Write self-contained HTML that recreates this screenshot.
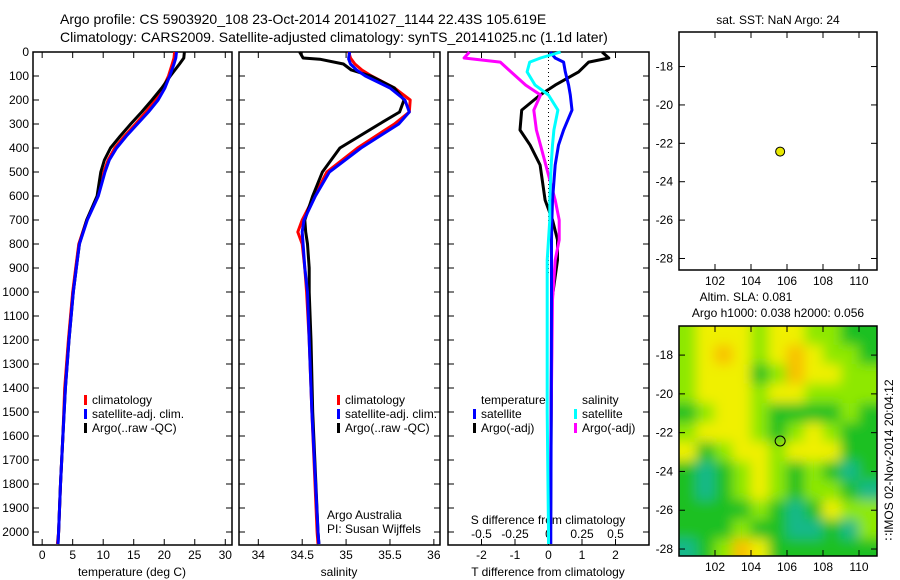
<!DOCTYPE html>
<html><head><meta charset="utf-8"><style>
body{margin:0;background:#fff}
svg{display:block;font-family:"Liberation Sans",sans-serif;font-size:12px}
</style></head><body>
<svg id="c" width="900" height="580" xmlns="http://www.w3.org/2000/svg">
<defs><filter id="bl" filterUnits="userSpaceOnUse" x="650" y="290" width="260" height="300"><feGaussianBlur stdDeviation="6"/></filter>
<clipPath id="mc"><rect x="679" y="326" width="198" height="230"/></clipPath></defs>
<text x="60" y="24" font-size="14">Argo profile: CS 5903920_108 23-Oct-2014 20141027_1144 22.43S 105.619E</text>
<text x="60" y="42" font-size="14">Climatology: CARS2009. Satellite-adjusted climatology: synTS_20141025.nc (1.1d later)</text>
<g id="g"></g>
</svg>
<script>
// ---- data ----
const depthT=[0,25,50,100,150,200,250,300,350,400,450,500,600,700,800,900,1000,1200,1400,1600,1800,2000,2050];
const tempClim=[21.7,21.6,21.3,20.7,19.8,18.6,17.0,15.3,13.5,11.9,10.8,10.1,9.1,7.3,6.0,5.5,5.0,4.3,3.7,3.4,3.0,2.7,2.5];
const tempSat=[22.0,21.9,21.6,20.9,20.1,19.0,17.4,15.6,13.8,12.2,11.0,10.3,9.2,7.4,6.1,5.6,5.1,4.4,3.8,3.4,3.0,2.7,2.6];
const tempArgo=[23.3,23.2,22.5,21.0,19.6,18.0,16.3,14.5,12.8,11.2,10.2,9.6,9.0,7.3,6.1,5.6,5.1,4.4,3.8,3.4,3.0,2.7,2.6];
const depthS=[0,25,30,50,75,100,150,200,250,300,400,500,600,700,750,800,900,1000,1200,1500,2000,2050];
const salClim=[35.03,35.05,35.06,35.10,35.18,35.29,35.55,35.73,35.72,35.55,35.13,34.78,34.64,34.50,34.45,34.50,34.53,34.55,34.58,34.61,34.67,34.68];
const salSat=[35.04,35.03,35.03,35.05,35.12,35.22,35.50,35.67,35.72,35.60,35.17,34.81,34.65,34.52,34.50,34.51,34.53,34.56,34.58,34.61,34.68,34.69];
const salArgo=[34.47,34.51,34.70,34.97,35.06,35.28,35.55,35.66,35.61,35.38,34.93,34.73,34.62,34.53,34.54,34.56,34.58,34.58,34.60,34.62,34.68,34.69];
const depthD=[0,25,42,83,138,179,242,325,388,471,617,700,783,867,1033,1500,2000,2050];
const dTsat=[0.05,0.2,0.45,0.5,0.6,0.65,0.7,0.45,0.3,0.2,0.12,0.1,0.09,0.09,0.09,0.08,0.07,0.07];
const dTargo=[1.6,1.8,1.2,0.9,0.2,-0.25,-0.8,-0.85,-0.55,-0.25,-0.1,0.12,0.27,0.27,0.1,0.08,0.06,0.05];
const dSsat=[0.09,-0.06,-0.14,-0.16,-0.1,0.0,0.07,0.04,0.03,0.02,0.01,0.01,0.0,-0.01,-0.01,-0.01,0.0,0.0];
const dSargo=[-0.59,-0.63,-0.36,-0.28,-0.17,-0.06,-0.11,-0.09,-0.06,-0.02,0.05,0.08,0.08,0.05,0.03,0.02,0.01,0.01];
const latMap=[-16,-18,-20,-22,-24,-26,-28];
const lonTicks=[102,104,106,108,110];
const depthTicks=[0,100,200,300,400,500,600,700,800,900,1000,1100,1200,1300,1400,1500,1600,1700,1800,1900,2000];
const tTicks=[0,5,10,15,20,25,30];
const sTicks=[34,34.5,35,35.5,36];
const dTTicks=[-2,-1,0,1,2];
const dSTicks=[-0.5,-0.25,0,0.25,0.5];
const argoLon=105.619, argoLat=-22.43;
// SLA grid: rows from -16.5 southward (1 deg), cols from lon 100 (1 deg); 0=teal..4=orange
const slaGrid=[
[2,3,3,3,2,3,3,2,2,1,1],
[2,3,4,3,2,3,4,3,2,2,1],
[2,3,3,3,1,2,4,3,3,2,2],
[2,3,3,3,2,3,3,2,2,2,2],
[1,2,3,3,2,1,1,1,1,2,1],
[2,3,3,3,2,1,2,3,2,1,1],
[3,1,2,3,3,2,3,3,3,1,1],
[1,0,1,2,3,2,1,2,1,0,1],
[1,0,1,2,3,2,1,2,2,1,0],
[1,1,1,1,2,1,0,1,3,2,2],
[1,1,1,2,1,1,0,0,1,0,2],
[0,1,2,4,3,1,1,1,1,1,1]];
const slaColors=['#12b88a','#1fc024','#8ee800','#f0f000','#f8c000'];

// ---- helpers ----
const NS='http://www.w3.org/2000/svg';
const G=document.getElementById('g');
function mk(tag,at,parent){const e=document.createElementNS(NS,tag);for(const k in at)e.setAttribute(k,at[k]);(parent||G).appendChild(e);return e;}
function txt(x,y,s,anchor,parent){const e=mk('text',{x:x,y:y,'text-anchor':anchor||'start'},parent);e.textContent=s;return e;}
const Y=d=>52+d*0.24;
const PB=545;
const panels=[{l:33,r:232,min:-1.5,max:31.1},{l:239,r:440,min:33.78,max:36.07},{l:448,r:649,min:-3,max:3}];
const X=(p,v)=>p.l+(v-p.min)/(p.max-p.min)*(p.r-p.l);
const XS=v=>X(panels[2],v*4);

panels.forEach((p,i)=>{
  const f=mk('rect',{x:p.l,y:52,width:p.r-p.l,height:PB-52,fill:'none',stroke:'#000','stroke-width':1.5});
  
  
  depthTicks.forEach(d=>{
    mk('line',{x1:p.l,x2:p.l+6,y1:Y(d),y2:Y(d),stroke:'#000'});
    mk('line',{x1:p.r,x2:p.r-6,y1:Y(d),y2:Y(d),stroke:'#000'});
  });
});
depthTicks.forEach(d=>{
  const t=txt(29,Y(d)+4,String(d),'end');
  
  
});
function xticks(p,ticks,fn,y,lab){
  ticks.forEach(v=>{const x=fn(v);
    mk('line',{x1:x,x2:x,y1:52,y2:58,stroke:'#000'});mk('line',{x1:x,x2:x,y1:PB,y2:PB-6,stroke:'#000'});
    const t=txt(x,y,lab(v),'middle');
    
    
  });
}
xticks(panels[0],tTicks,v=>X(panels[0],v),559,v=>String(v));
xticks(panels[1],sTicks,v=>X(panels[1],v),559,v=>String(v));
xticks(panels[2],dTTicks,v=>X(panels[2],v),559,v=>String(v));
dSTicks.forEach(v=>{const t=txt(XS(v),538,String(v),'middle');
  
  });
[['temperature (deg C)',132],['salinity',339],['T difference from climatology',548]].forEach(a=>{
  const t=txt(a[1],576,a[0],'middle');
  
  });
{const t=txt(548,524,'S difference from climatology','middle');
 
 }
mk('line',{x1:X(panels[2],0),x2:X(panels[2],0),y1:52,y2:275,stroke:'#000','stroke-dasharray':'1 3'});

function line(ds,vs,fx,col,name,w){
  const pts=ds.map((d,i)=>fx(vs[i]).toFixed(1)+','+Y(d).toFixed(1)).join(' ');
  const e=mk('polyline',{points:pts,fill:'none',stroke:col,'stroke-width':w||3,'stroke-linejoin':'round'});
  
  
}
line(depthT,tempClim,v=>X(panels[0],v),'#f00','temp-climatology-line');
line(depthT,tempArgo,v=>X(panels[0],v),'#000','temp-argo-line');
line(depthT,tempSat,v=>X(panels[0],v),'#00f','temp-satellite-line');
line(depthS,salClim,v=>X(panels[1],v),'#f00','sal-climatology-line');
line(depthS,salArgo,v=>X(panels[1],v),'#000','sal-argo-line');
line(depthS,salSat,v=>X(panels[1],v),'#00f','sal-satellite-line');
line(depthD,dTargo,v=>X(panels[2],v),'#000','tdiff-argo-line');
line(depthD,dSargo,XS,'#f0f','sdiff-argo-line');
line(depthD,dTsat,v=>X(panels[2],v),'#00f','tdiff-satellite-line');
line(depthD,dSsat,XS,'#0ff','sdiff-satellite-line');

function legend(x,y,items,name){
  items.forEach((it,i)=>{
    if(it[1]) mk('rect',{x:x,y:y+i*14-9,width:3,height:10,fill:it[1]});
    const t=txt(x+8,y+i*14,it[0]);
    
    
  });
}
legend(84,404,[['climatology','#f00'],['satellite-adj. clim.','#00f'],['Argo(..raw -QC)','#000']],'temp-legend');
legend(337,404,[['climatology','#f00'],['satellite-adj. clim.','#00f'],['Argo(..raw -QC)','#000']],'sal-legend');
legend(473,404,[['temperature',null],['satellite','#00f'],['Argo(-adj)','#000']],'tdiff-legend');
legend(574,404,[['salinity',null],['satellite','#0ff'],['Argo(-adj)','#f0f']],'sdiff-legend');
{const t=txt(327,519,'Argo Australia');
 const u=txt(327,533,'PI: Susan Wijffels');}

// ---- maps ----
function mapAxes(top,bot,lonToX,latToY,name){
  const f=mk('rect',{x:679,y:top,width:198,height:bot-top,fill:'none',stroke:'#000','stroke-width':1.5});
  
  
  latMap.forEach(l=>{const y=latToY(l);if(y<top+3||y>bot)return;
    mk('line',{x1:679,x2:685,y1:y,y2:y,stroke:'#000'});mk('line',{x1:877,x2:871,y1:y,y2:y,stroke:'#000'});
    const t=txt(673,y+4,String(l),'end');
    
    });
  lonTicks.forEach(l=>{const x=lonToX(l);
    mk('line',{x1:x,x2:x,y1:top,y2:top+6,stroke:'#000'});mk('line',{x1:x,x2:x,y1:bot,y2:bot-6,stroke:'#000'});
    const t=txt(x,bot+15,String(l),'middle');
    
    });
}
const lonX=l=>679+(l-100)/11*198;
const lat1=l=>32+(-16.2-l)/( -16.2+28.6)*238;
const lat2=l=>326+(-16.5-l)/(11.86)*230;
const hm=mk('g',{'clip-path':'url(#mc)'});
const hb=mk('g',{filter:'url(#bl)'},hm);
slaGrid.forEach((row,r)=>row.forEach((v,c)=>{
  const y0=lat2(-16.5-r), y1=lat2(-17.5-r);
  const x0=c===0?660:lonX(100+c);
  const x1=c===row.length-1?900:lonX(101+c);
  const yy0=r===0?300:y0;
  const yy1=r===slaGrid.length-1?580:y1;
  const e=mk('rect',{x:x0-0.5,y:yy0-0.5,width:x1-x0+1,height:yy1-yy0+1,fill:slaColors[v]},hb);
  
  
}));
mapAxes(32,270,lonX,lat1,'sst-map');
mapAxes(326,556,lonX,lat2,'sla-map');
{const c=mk('circle',{cx:lonX(argoLon),cy:lat1(argoLat),r:4.5,fill:'#e8e800',stroke:'#000'});
 
 const d=mk('circle',{cx:lonX(argoLon),cy:lat2(argoLat),r:5,fill:'none',stroke:'#000'});
 }
[['sat. SST: NaN  Argo: 24',778,24,'sst-map-title'],['Altim. SLA: 0.081',746,301,'sla-map-title'],['Argo h1000: 0.038 h2000: 0.056',778,317,'steric-height-title']].forEach(a=>{
  const t=txt(a[1],a[2],a[0],'middle');
  
  });
{const t=txt(0,0,'\u2237IMOS 02-Nov-2014 20:04:12','middle');
 t.setAttribute('transform','translate(893,460) rotate(-90)');
 }
</script>
</body></html>
